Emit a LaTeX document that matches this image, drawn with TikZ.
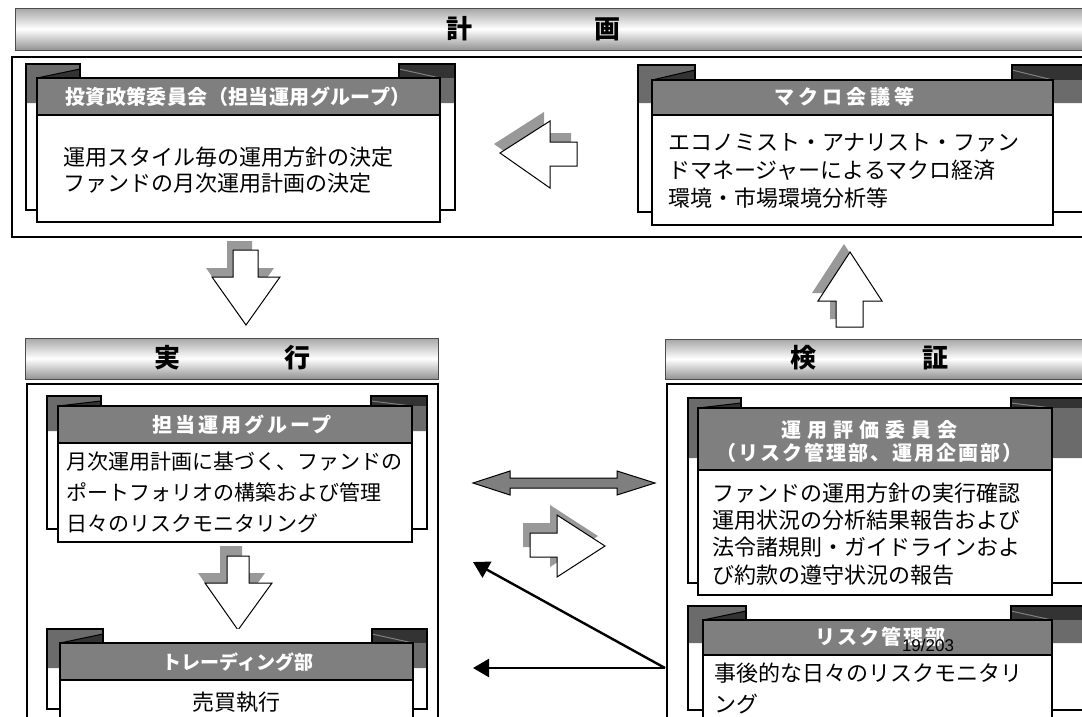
\documentclass[tikz,border=0pt]{standalone}
\usepackage{fontspec}
\newfontfamily\cjk{Noto Sans CJK JP}
\newfontfamily\arialf{Liberation Sans}
\usetikzlibrary{arrows.meta}
\definecolor{hdrgray}{HTML}{7F7F7F}
\definecolor{bandgray}{HTML}{6B6B6B}
\definecolor{tabdark}{HTML}{333333}
\definecolor{shadowgray}{HTML}{999999}
\tikzset{
  frameline/.style={draw=black, line width=1.3pt},
  boxline/.style={draw=black, line width=1.3pt},
  banner/.style={draw=black!70, line width=1pt, top color=gray!70, bottom color=gray!85, middle color=white},
  bannertext/.style={font=\cjk\bfseries\fontsize{26}{26}\selectfont, inner sep=0pt},
  hdrtext/.style={font=\cjk\bfseries\fontsize{20}{23}\selectfont, text=white, inner sep=0pt, align=center},
  bodytext/.style={font=\cjk\fontsize{22}{27}\selectfont, inner sep=0pt, align=left, anchor=west},
  blockarrow/.style={draw=black, line width=1pt, fill=white},
  arrowshadow/.style={fill=shadowgray},
  thinarrow/.style={line width=2.4pt, -{Triangle[length=16pt,width=18pt]}},
}
% x1 y1 x2 y2 fx1 fy1 fx2 fy2 hy
\newcommand\ScrollBox[9]{%
  \fill[white] (#1,#2) rectangle (#3,#4);
  \fill[bandgray] (#1,#2) -- ({#5+43},#2) -- ({#5+43},#6) -- ({#7-41},#6) -- ({#7-41},#2) -- (#3,#2) -- (#3,{#9-12}) -- (#1,{#9-12}) -- cycle;
  \fill[tabdark] ({#7-41},#2) rectangle (#3,#6);
  \fill[tabdark] (#5,#6) -- ({#5+43},{#2+5}) -- ({#5+43},#6) -- cycle;
  \draw[black, line width=1pt] (#5,#6) -- ({#5+43},{#2+5});
  \draw[gray, line width=1pt] ({#7-41},{#2+5}) -- (#7,#6);
  \draw[boxline] (#1,#4) -- (#1,#2) -- ({#5+43},#2) -- ({#5+43},#6) -- ({#7-41},#6) -- ({#7-41},#2) -- (#3,#2) -- (#3,#4) -- cycle;
  \draw[boxline, fill=white] (#5,#6) rectangle (#7,#8);
  \draw[boxline, fill=hdrgray] (#5,#6) rectangle (#7,#9);
}
\newcommand\ArrLeft[1]{\path[#1] (500,153) -- (550,121) -- (550,142) -- (577,142) -- (577,166) -- (550,166) -- (550,188) -- cycle;}
\newcommand\ArrDownA[1]{\path[#1] (233,250) -- (258,250) -- (258,277) -- (280,277) -- (246,325) -- (212,277) -- (233,277) -- cycle;}
\newcommand\ArrUp[1]{\path[#1] (850,252) -- (882,301) -- (863,301) -- (863,327) -- (836,327) -- (836,301) -- (818,301) -- cycle;}
\newcommand\ArrDownB[1]{\path[#1] (227,556) -- (249,556) -- (249,583) -- (272,583) -- (238,630) -- (205,583) -- (227,583) -- cycle;}
\newcommand\ArrRight[1]{\path[#1] (530,533) -- (557,533) -- (557,515) -- (605,546) -- (557,577) -- (557,557) -- (530,557) -- cycle;}
\begin{document}
\begin{tikzpicture}[x=1pt,y=-1pt]
\useasboundingbox (0,0) rectangle (1082,716);
\clip (0,0) rectangle (1082,716);
\fill[white] (0,0) rectangle (1082,716);

% ---------- planning ----------
\draw[banner] (15,8) rectangle (1095,50);
\node[bannertext] (kei) at (459,29) {計};
\node[bannertext] (ga) at (607,29) {画};
\draw[frameline, fill=white] (12,57) rectangle (1095,237);

\ScrollBox{26}{64}{455}{210}{37}{78}{440}{222}{115}
\node[hdrtext, font=\cjk\bfseries\fontsize{20}{23}\selectfont\addfontfeature{LetterSpace=2}] (hA) at (238,97) {投資政策委員会（担当運用グループ）};
\node[bodytext, font=\cjk\fontsize{22}{26}\selectfont] (bA) at (63,170) {運用スタイル毎の運用方針の決定\\ファンドの月次運用計画の決定};

\ScrollBox{638}{65}{1095}{212}{652}{80}{1053}{225}{115}
\node[hdrtext, font=\cjk\bfseries\fontsize{20}{23}\selectfont\addfontfeature{LetterSpace=20}] (hB) at (844,97) {マクロ会議等};
\node[bodytext, font=\cjk\fontsize{22}{28}\selectfont] (bB) at (668,171) {エコノミスト・アナリスト・ファン\\ドマネージャーによるマクロ経済\\環境・市場環境分析等};

\ArrLeft{arrowshadow, shift={(-6,-9)}}
\ArrLeft{blockarrow}

% ---------- arrows between sections ----------
\ArrDownA{arrowshadow, shift={(-6,-9)}}
\ArrDownA{blockarrow}
\ArrUp{arrowshadow, shift={(-6,-8)}}
\ArrUp{blockarrow}

% ---------- execution ----------
\draw[banner] (25,338) rectangle (438,379);
\node[bannertext] (jitsu) at (167,358) {実};
\node[bannertext] (kou) at (297,358) {行};
\draw[frameline, fill=white] (27,384) rectangle (438,730);

\ScrollBox{47}{396}{427}{529}{58}{406}{412}{542}{443}
\node[hdrtext, font=\cjk\bfseries\fontsize{20}{23}\selectfont\addfontfeature{LetterSpace=15}] (hC) at (242,425) {担当運用グループ};
\node[bodytext, font=\cjk\fontsize{21}{31}\selectfont] (bC) at (66,492) {月次運用計画に基づく、ファンドの\\ポートフォリオの構築および管理\\日々のリスクモニタリング};

\ArrDownB{arrowshadow, shift={(-7,-10)}}
\ArrDownB{blockarrow}

\ScrollBox{47}{629}{427}{709}{60}{643}{413}{730}{680}
\node[hdrtext, font=\cjk\bfseries\fontsize{19}{23}\selectfont] (hD) at (238,662) {トレーディング部};
\node[bodytext, anchor=center] (bD) at (236,702) {売買執行};

% ---------- verification ----------
\draw[banner] (665,339) rectangle (1095,379);
\node[bannertext] (ken) at (803,358) {検};
\node[bannertext] (shou) at (935,358) {証};
\draw[frameline, fill=white] (667,384) rectangle (1095,730);

\ScrollBox{688}{398}{1095}{583}{698}{408}{1052}{595}{470}
\node[hdrtext, font=\cjk\bfseries\fontsize{20}{23}\selectfont\addfontfeature{LetterSpace=30}] (hE1) at (869,430) {運用評価委員会};
\node[hdrtext, font=\cjk\bfseries\fontsize{20}{23}\selectfont\addfontfeature{LetterSpace=10}] (hE2) at (869,453) {（リスク管理部、運用企画部）};
\node[bodytext, font=\cjk\fontsize{22}{27.3}\selectfont] (bE) at (712,534) {ファンドの運用方針の実行確認\\運用状況の分析結果報告および\\法令諸規則・ガイドラインおよ\\び約款の遵守状況の報告};

\ScrollBox{688}{606}{1095}{710}{703}{620}{1052}{730}{655}
\node[hdrtext, font=\cjk\bfseries\fontsize{20}{23}\selectfont\addfontfeature{LetterSpace=10}] (hF) at (880,637) {リスク管理部};
\node[bodytext, font=\cjk\fontsize{22}{31}\selectfont] (bF) at (714,688) {事後的な日々のリスクモニタリ\\ング};

% ---------- middle connectors ----------
\path[draw=black, line width=1pt, fill=hdrgray] (473,483) -- (510,471) -- (510,478) -- (617,478) -- (617,471) -- (655,483) -- (617,495) -- (617,488) -- (510,488) -- (510,495) -- cycle;
\ArrRight{arrowshadow, shift={(-7,-10)}}
\ArrRight{blockarrow}

\coordinate (vsrc) at (665,668);
\coordinate (exA) at (473,562);
\coordinate (exB) at (473,668);
\draw[thinarrow] (vsrc) -- (exA);
\draw[thinarrow] (vsrc) -- (exB);

\node[font=\arialf\fontsize{17}{17}\selectfont, inner sep=0pt] (pg) at (928,645) {19/203};
\end{tikzpicture}
\end{document}
